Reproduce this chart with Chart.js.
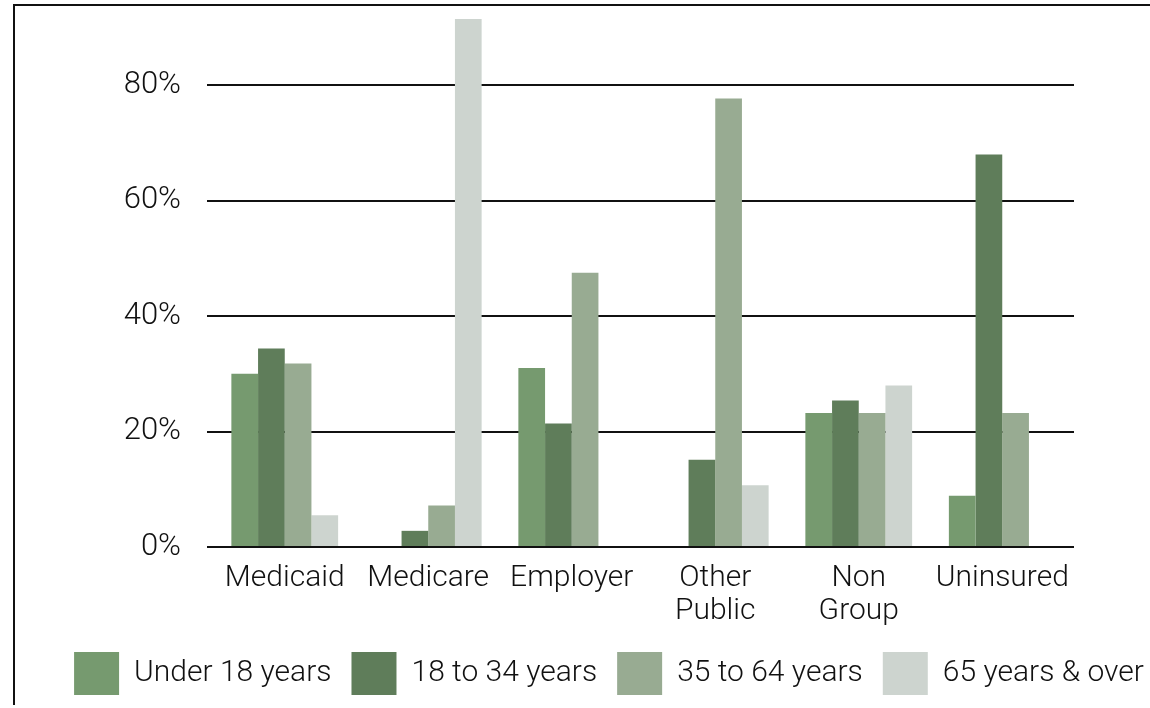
<!DOCTYPE html>
<html>
<head>
<meta charset="utf-8">
<script src="https://cdn.jsdelivr.net/npm/chart.js@4"></script>
<style>
  html, body { margin: 0; padding: 0; background: #fff; overflow: hidden; width: 1150px; height: 708px; }
  #frame { position: absolute; left: 13px; top: 4px; width: 1188px; height: 699px;
           border-left: 2px solid #111; border-top: 2px solid #111; }
  canvas { display: block; }
</style>
</head>
<body>
<div id="frame"><canvas id="c" width="1188" height="699"></canvas></div>
<script>
const categories = [["Medicaid"], ["Medicare"], ["Employer"], ["Other", "Public"], ["Non", "Group"], ["Uninsured"]];
const seriesNames = ["Under 18 years", "18 to 34 years", "35 to 64 years", "65 years & over"];
const under18 = [30.0, null, 31.0, null, 23.2, 8.9];
const age18to34 = [34.4, 2.8, 21.4, 15.1, 25.4, 68.0];
const age35to64 = [31.8, 7.2, 47.5, 77.7, 23.2, 23.2];
const age65plus = [5.5, 91.5, null, 10.7, 28.0, null];
const yTicks = [0, 20, 40, 60, 80];
const colors = ["#769a6f", "#5f7d5a", "#98ab92", "#cdd4cf"];

const FONT = "Roboto, 'Liberation Sans', sans-serif";
const allSeries = [under18, age18to34, age35to64, age65plus];

new Chart(document.getElementById('c'), {
  type: 'bar',
  data: {
    labels: categories,
    datasets: allSeries.map((d, i) => ({
      label: seriesNames[i],
      data: d,
      backgroundColor: colors[i],
      borderWidth: 0,
      categoryPercentage: 0.744,
      barPercentage: 1.0
    }))
  },
  options: {
    responsive: false,
    animation: false,
    devicePixelRatio: 1,
    layout: { padding: { left: 0, right: 0, top: 10, bottom: 0 } },
    plugins: {
      tooltip: { enabled: false },
      legend: {
        position: 'bottom',
        labels: {
          boxWidth: 45,
          boxHeight: 43,
          padding: 20,
          color: '#111',
          font: { family: FONT, size: 30, weight: '300' }
        }
      }
    },
    scales: {
      x: {
        grid: { display: false },
        border: { display: false },
        ticks: {
          color: '#111',
          padding: 7,
          maxRotation: 0,
          autoSkip: false,
          font: { family: FONT, size: 30, weight: '300', lineHeight: 1.1 }
        },
        afterFit: (s) => { s.height = 85; s.paddingLeft = 0; s.paddingRight = 0; }
      },
      y: {
        min: 0,
        max: 92,
        border: { display: false },
        grid: { color: '#111', lineWidth: 2, drawTicks: true, tickLength: 6 },
        ticks: {
          color: '#111',
          padding: 26,
          font: { family: FONT, size: 31, weight: '300' },
          callback: (v) => v + '%'
        },
        afterBuildTicks: (s) => { s.ticks = yTicks.map(v => ({ value: v })); },
        afterFit: (s) => { s.width = 198; s.paddingTop = 0; s.paddingBottom = 0; }
      },
      yRight: {
        position: 'right',
        min: 0,
        max: 1,
        grid: { display: false },
        border: { display: false },
        ticks: { display: false },
        afterFit: (s) => { s.width = 129; s.paddingTop = 0; s.paddingBottom = 0; }
      }
    }
  }
});
</script>
</body>
</html>
